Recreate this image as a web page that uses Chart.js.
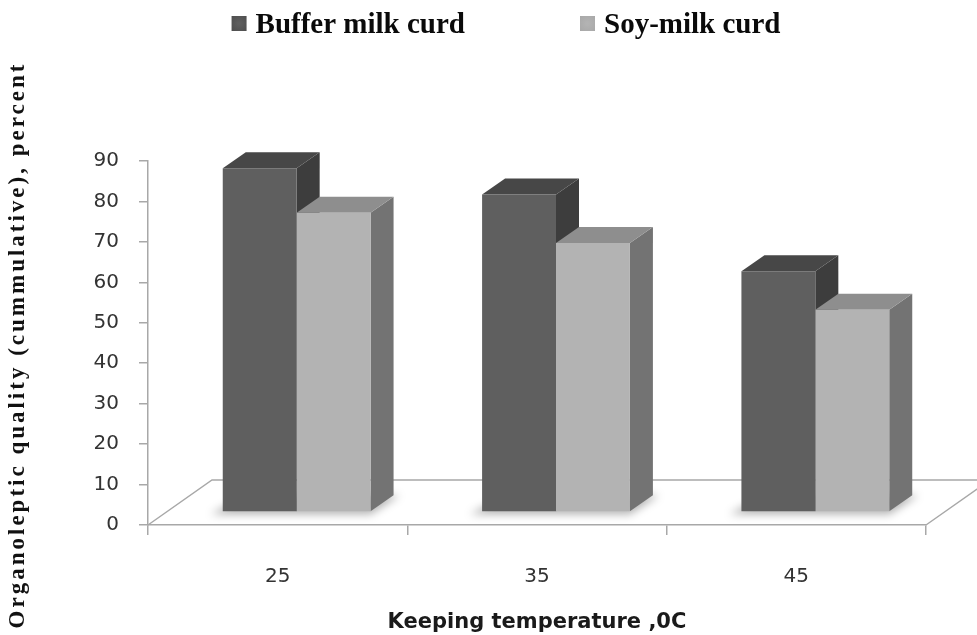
<!DOCTYPE html>
<html><head><meta charset="utf-8">
<script src="https://cdn.jsdelivr.net/npm/chart.js@4.4.1/dist/chart.umd.min.js"></script>
<style>html,body{margin:0;padding:0;background:#fff}#wrap{width:977px;height:635px}</style>
</head><body><div id="wrap"><canvas id="c" width="977" height="635"></canvas></div>
<script>
// ---- data ----
const categories = ['25', '35', '45'];
const bufferMilkCurd = [85, 78.5, 59.5];
const soyMilkCurd = [74, 66.5, 50];
const seriesNames = ['Buffer milk curd', 'Soy-milk curd'];
const yMin = 0, yMax = 90, yStep = 10;
const xTitle = 'Keeping temperature ,0C';
const yTitle = 'Organoleptic quality (cummulative), percent';

// ---- styles ----
const faceColors = [
  {front: '#5f5f5f', top: '#474747', side: '#3d3d3d', box: '#4e4e4e'},
  {front: '#b3b3b3', top: '#8e8e8e', side: '#737373', box: '#a8a8a8'}
];
const BAR_SHIFT = {x: 19, y: 13};
const BAR_DEPTH = {x: 23, y: 16};
const FLOOR_DEPTH = {x: 64, y: 45};
const AXIS_COLOR = '#a8a8a8';

const threeD = {
  id: 'threeD',
  beforeDatasetsDraw(chart) {
    const ctx = chart.ctx, a = chart.chartArea;
    // floor
    ctx.save();
    ctx.beginPath();
    ctx.moveTo(a.left, a.bottom);
    ctx.lineTo(a.left + FLOOR_DEPTH.x, a.bottom - FLOOR_DEPTH.y);
    ctx.lineTo(a.right + FLOOR_DEPTH.x, a.bottom - FLOOR_DEPTH.y);
    ctx.lineTo(a.right, a.bottom);
    ctx.strokeStyle = AXIS_COLOR; ctx.lineWidth = 1.5; ctx.stroke();
    ctx.restore();

    ctx.save();
    ctx.translate(BAR_SHIFT.x, -BAR_SHIFT.y);
    const m0 = chart.getDatasetMeta(0).data, m1 = chart.getDatasetMeta(1).data;
    // soft shadows on the floor
    m0.forEach((b0, k) => {
      const b1 = m1[k];
      const l = b0.x - b0.width / 2, r = b1.x + b1.width / 2, base = b0.base;
      ctx.save();
      ctx.filter = 'blur(4px)';
      ctx.fillStyle = 'rgba(0,0,0,0.3)';
      ctx.beginPath();
      ctx.moveTo(l - 12, base + 3);
      ctx.lineTo(r, base + 3);
      ctx.lineTo(r + BAR_DEPTH.x + 6, base - BAR_DEPTH.y);
      ctx.lineTo(l + BAR_DEPTH.x, base - BAR_DEPTH.y);
      ctx.closePath(); ctx.fill();
      ctx.restore();
    });
    // top and side faces
    chart.data.datasets.forEach((ds, i) => {
      chart.getDatasetMeta(i).data.forEach(bar => {
        const x0 = bar.x - bar.width / 2, x1 = bar.x + bar.width / 2, y = bar.y, base = bar.base;
        const dx = BAR_DEPTH.x, dy = BAR_DEPTH.y;
        ctx.fillStyle = faceColors[i].side;
        ctx.beginPath();
        ctx.moveTo(x1, y); ctx.lineTo(x1 + dx, y - dy); ctx.lineTo(x1 + dx, base - dy); ctx.lineTo(x1, base);
        ctx.closePath(); ctx.fill();
        ctx.fillStyle = faceColors[i].top;
        ctx.beginPath();
        ctx.moveTo(x0, y); ctx.lineTo(x0 + dx, y - dy); ctx.lineTo(x1 + dx, y - dy); ctx.lineTo(x1, y);
        ctx.closePath(); ctx.fill();
      });
    });
    // translation stays active for Chart.js front faces
  },
  afterDatasetsDraw(chart) { chart.ctx.restore(); },
  afterDraw(chart) {
    const ctx = chart.ctx;
    // y title
    ctx.save();
    ctx.translate(18, 345);
    ctx.rotate(-Math.PI / 2);
    ctx.font = 'bold 23px "Liberation Serif"';
    ctx.letterSpacing = '3px';
    ctx.fillStyle = '#111';
    ctx.textAlign = 'center'; ctx.textBaseline = 'middle';
    ctx.fillText(yTitle, 0, 0);
    ctx.restore();
    // legend
    ctx.save();
    ctx.font = 'bold 29px "Liberation Serif"';
    ctx.textBaseline = 'alphabetic'; ctx.textAlign = 'left';
    const box = 15, gapBoxText = 9, gapItems = 115;
    const widths = chart.data.datasets.map(d => ctx.measureText(d.label).width);
    const total = widths.reduce((s, w) => s + box + gapBoxText + w, 0) + gapItems * (widths.length - 1);
    let x = 506 - total / 2;
    chart.data.datasets.forEach((d, i) => {
      const g = ctx.createRadialGradient(x + box / 2, 16 + box / 2, 1, x + box / 2, 16 + box / 2, box * 0.7);
      g.addColorStop(0, faceColors[i].front);
      g.addColorStop(1, faceColors[i].box);
      ctx.fillStyle = g;
      ctx.fillRect(x, 16, box, box);
      ctx.fillStyle = '#0a0a0a';
      ctx.fillText(d.label, x + box + gapBoxText, 33);
      x += box + gapBoxText + widths[i] + gapItems;
    });
    ctx.restore();
  }
};

new Chart(document.getElementById('c'), {
  type: 'bar',
  data: {
    labels: categories,
    datasets: [
      {label: seriesNames[0], data: bufferMilkCurd, backgroundColor: faceColors[0].front, borderWidth: 0},
      {label: seriesNames[1], data: soyMilkCurd, backgroundColor: faceColors[1].front, borderWidth: 0}
    ]
  },
  options: {
    responsive: false,
    animation: false,
    events: [],
    layout: {padding: {top: 161, right: 51, bottom: 0, left: 0}},
    datasets: {bar: {categoryPercentage: 0.57, barPercentage: 1}},
    plugins: {legend: {display: false}, tooltip: {enabled: false}},
    scales: {
      x: {
        grid: {display: true, drawOnChartArea: false, drawTicks: true, tickLength: 10, color: AXIS_COLOR, lineWidth: 1.5, offset: true},
        border: {display: true, color: AXIS_COLOR, width: 1.5},
        ticks: {padding: 30, color: '#333', font: {family: 'DejaVu Sans', size: 20}},
        title: {display: true, text: xTitle, color: '#1a1a1a', font: {family: 'DejaVu Sans', weight: 'bold', size: 21}, padding: {top: 0, bottom: 0}},
        afterFit(s) { s.height = 110; }
      },
      y: {
        min: yMin, max: yMax,
        grid: {display: true, drawOnChartArea: false, drawTicks: true, tickLength: 9, color: AXIS_COLOR, lineWidth: 1.5},
        border: {display: true, color: AXIS_COLOR, width: 1.5},
        ticks: {stepSize: yStep, padding: 20, color: '#333', font: {family: 'DejaVu Sans', size: 20}},
        afterFit(s) { s.width = 148; }
      }
    }
  },
  plugins: [threeD]
});
</script>
</body></html>
